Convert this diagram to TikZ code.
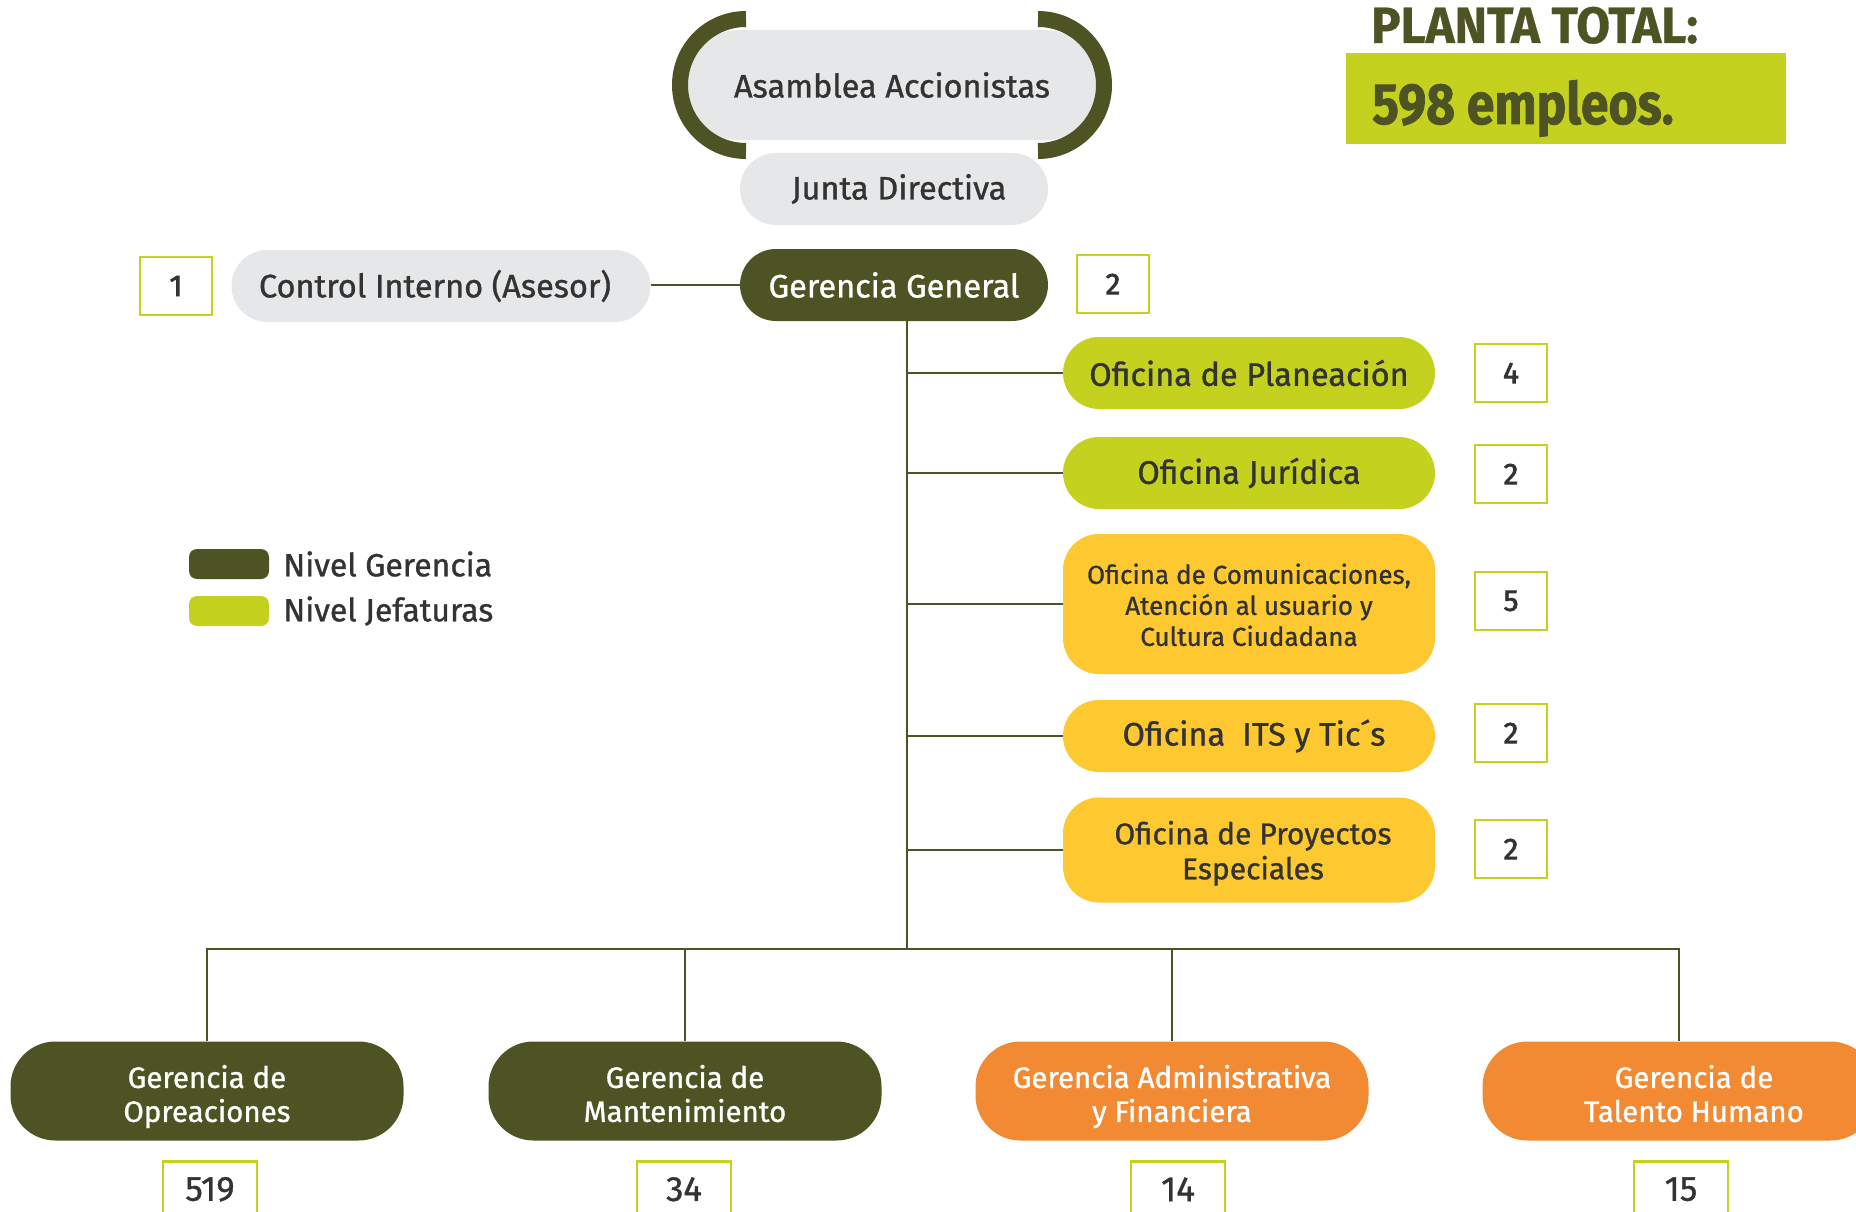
\documentclass[tikz,border=0pt]{standalone}
\usepackage{fontspec}
\setmainfont{Fira Sans}[FakeBold=1.0]
\newfontfamily\condfont{Fira Sans}[FakeStretch=0.96,FakeBold=0.6]
\newfontfamily\altfont{Fira Sans}[FakeStretch=0.86,FakeBold=1.2]
\newfontfamily\numfont{Fira Sans}[FakeBold=2.2]
\usetikzlibrary{positioning,calc}
\definecolor{verdeosc}{HTML}{4D5322}
\definecolor{lima}{HTML}{C4D21F}
\definecolor{amarillo}{HTML}{FEC830}
\definecolor{naranja}{HTML}{F28A34}
\definecolor{gris}{HTML}{E6E7E8}
\definecolor{texto}{HTML}{333333}
\newcommand{\alto}{\rule{0pt}{38pt}}
\tikzset{
  pill/.style={rectangle, rounded corners=36pt, minimum height=72pt, inner sep=0pt, align=center, font=\fontsize{32.5}{38}\selectfont},
  grispill/.style={pill, fill=gris, text=texto},
  gerpill/.style={pill, fill=verdeosc, text=white},
  ofi/.style={pill, minimum width=372pt, text=texto},
  numbox/.style={draw=lima, line width=2.5pt, fill=white, minimum width=72pt, minimum height=58pt, inner sep=0pt, text=texto, font=\numfont\fontsize{30}{30}\selectfont},
  numbaja/.style={numbox, minimum width=94pt, minimum height=56pt, anchor=north, font=\fontsize{35}{35}\selectfont},
  baja/.style={rectangle, rounded corners=45pt, minimum width=393pt, minimum height=99pt, inner sep=0pt, text=white, align=center, font=\fontsize{29.5}{34}\selectfont},
  linea/.style={draw=verdeosc, line width=2pt},
}
\begin{document}
\begin{tikzpicture}[x=1pt,y=-1pt]
\useasboundingbox[fill=white] (0,0) rectangle (1856,1212);
% top
\node[grispill, minimum width=415pt, minimum height=110pt, rounded corners=55pt] (asam) at (892,85) {Asamblea Accionistas};
\draw[verdeosc, line width=16pt] (746,19) arc[start angle=270, end angle=90, radius=66];
\draw[verdeosc, line width=16pt] (1038,19) arc[start angle=-90, end angle=90, radius=66];
\node[grispill, minimum width=308pt] (junta) at (894,189) {\hspace*{10pt}Junta Directiva};
\node[gerpill, minimum width=308pt] (gg) at (894,285) {Gerencia General};
\node[grispill, minimum width=419pt] (ci) at (441,286) {Control Interno (Asesor)\hspace*{12pt}};
\node[numbox] (n1) at (176,286) {1};
\node[numbox] (n2) at (1113,284) {2};
\draw[linea] (ci.east |- gg.west) -- (gg.west);
% total
\node[anchor=base west, text=verdeosc, font=\condfont\bfseries\fontsize{51}{51}\selectfont, inner sep=0pt] (planta) at (1371,43) {PLANTA TOTAL:};
\node[fill=lima, minimum width=440pt, minimum height=91pt, anchor=north west, inner sep=0pt] (caja) at (1346,53) {};
\node[anchor=base west, text=verdeosc, font=\altfont\bfseries\fontsize{58}{58}\selectfont, inner sep=0pt] (empleos) at (1372,124) {598 empleos.};
% legend
\node[fill=verdeosc, rounded corners=8pt, minimum width=80pt, minimum height=30pt] (leg1) at (229,564) {};
\node[fill=lima, rounded corners=8pt, minimum width=80pt, minimum height=30pt] (leg2) at (229,611) {};
\node[right=14pt of leg1, text=texto, font=\fontsize{32}{32}\selectfont, inner sep=0pt] (legt1) {Nivel Gerencia};
\node[right=14pt of leg2, text=texto, font=\fontsize{32}{32}\selectfont, inner sep=0pt] (legt2) {Nivel Jefaturas};
% offices
\coordinate (bus) at (907,949);
\draw[linea] (gg.south -| bus) -- (bus);
\node[ofi, fill=lima] (pl) at (1249,373) {Oficina de Planeación};
\node[ofi, fill=lima] (jur) at (1249,473) {Oficina Jurídica};
\node[ofi, fill=amarillo, minimum height=140pt, font=\fontsize{26}{31}\selectfont] (com) at (1249,604) {\rule{0pt}{31pt}Oficina de Comunicaciones,\\Atención al usuario y\\Cultura Ciudadana\strut};
\node[ofi, fill=amarillo] (its) at (1249,736) {\hspace*{10pt}Oficina\ \ ITS y Tic´s};
\node[ofi, fill=amarillo, minimum height=105pt, font=\fontsize{30}{35}\selectfont] (proy) at (1249,850) {\rule{0pt}{34pt}\hspace*{8pt}Oficina de Proyectos\\\hspace*{8pt}Especiales\strut};
\foreach \o in {pl,jur,com,its,proy}
  \draw[linea] (bus |- \o.west) -- (\o.west);
\node[numbox] (n4) at (1511,373) {4};
\node[numbox] (n5) at (1511,474) {2};
\node[numbox] (n6) at (1511,601) {5};
\node[numbox] (n7) at (1511,733) {2};
\node[numbox] (n8) at (1511,849) {2};
% gerencias
\node[baja, fill=verdeosc] (op) at (207,1091) {\alto Gerencia de\\Opreaciones\strut};
\node[baja, fill=verdeosc] (mant) at (685,1091) {\alto Gerencia de\\Mantenimiento\strut};
\node[baja, fill=naranja] (adm) at (1172,1091) {\alto Gerencia Administrativa\\y Financiera\strut};
\node[baja, fill=naranja] (tal) at (1679,1091) {\alto\hspace*{30pt}Gerencia de\\\hspace*{30pt}Talento Humano\strut};
\draw[linea] (op.north) -- (op.north |- bus) -- (tal.north |- bus) -- (tal.north);
\draw[linea] (mant.north) -- (mant.north |- bus);
\draw[linea] (adm.north) -- (adm.north |- bus);
\node[numbaja] (n9) at (210,1160) {519};
\node[numbaja] (n10) at (684,1160) {34};
\node[numbaja] (n11) at (1178,1160) {14};
\node[numbaja] (n12) at (1681,1160) {15};
\end{tikzpicture}
\end{document}
